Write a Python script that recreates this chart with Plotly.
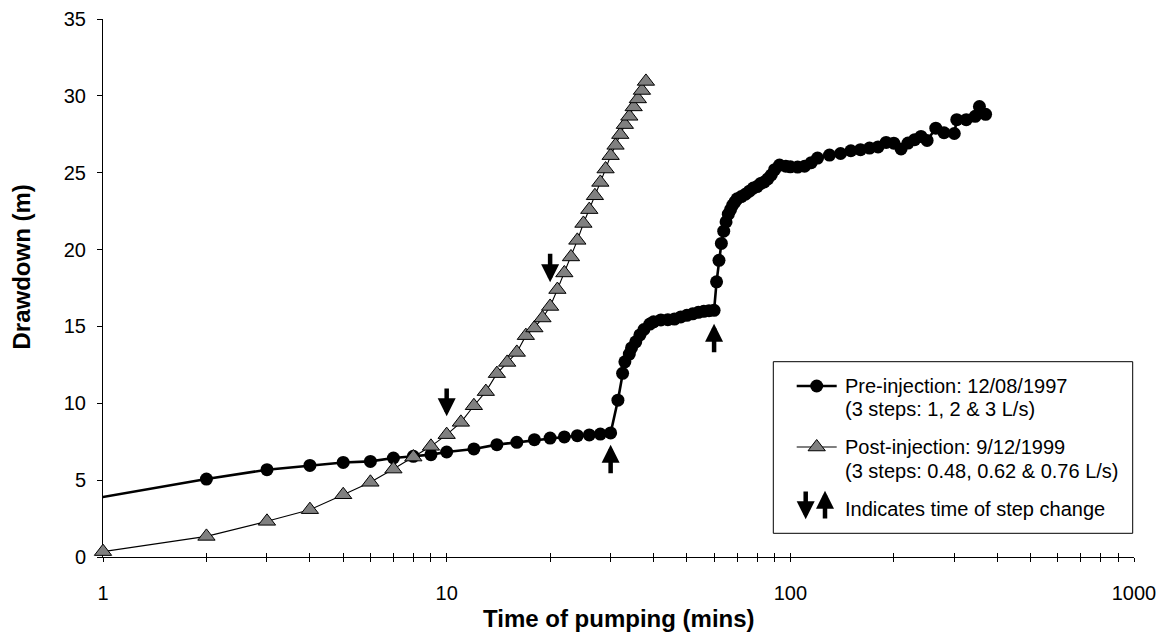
import plotly.graph_objects as go
import math

# ---------------- data ----------------
pre_time = [0.5, 2, 3, 4, 5, 6, 7, 8, 9, 10, 12, 14, 16, 18, 20, 22, 24, 26, 28, 30,
            31.5, 32.5, 33, 34, 34.5, 35.5, 36.5, 37.5, 39, 40, 42, 44, 46, 48, 50, 52, 54, 56, 58, 60,
            61, 62, 63, 64, 65, 66, 67, 68, 69, 70, 72, 74, 76, 78, 80, 82, 84, 86, 88, 90,
            93, 97, 100, 105, 110, 115, 120, 130, 140, 150, 160, 170, 180, 190, 200, 210,
            220, 230, 240, 250, 265, 280, 300, 305, 325, 345, 355, 370]
pre_drawdown = [2.73, 5.07, 5.68, 5.96, 6.15, 6.22, 6.44, 6.55, 6.66, 6.83, 7.03, 7.31, 7.46, 7.63, 7.74, 7.81, 7.89, 7.94, 8.0, 8.07,
                10.2, 11.95, 12.7, 13.2, 13.6, 14.0, 14.45, 14.8, 15.15, 15.3, 15.42, 15.44, 15.48, 15.62, 15.72, 15.82, 15.92, 15.98, 16.02, 16.05,
                17.9, 19.3, 20.4, 21.2, 21.8, 22.3, 22.6, 22.9, 23.1, 23.3, 23.45, 23.6, 23.8, 24.0, 24.1, 24.3, 24.4, 24.6, 24.85, 25.2,
                25.5, 25.42, 25.38, 25.37, 25.42, 25.65, 25.95, 26.15, 26.25, 26.43, 26.5, 26.6, 26.68, 26.97, 26.92, 26.55,
                26.93, 27.15, 27.36, 27.1, 27.9, 27.6, 27.55, 28.45, 28.45, 28.67, 29.3, 28.8]

post_time = list(range(1, 39))
post_drawdown = [0.35, 1.34, 2.32, 3.08, 4.05, 4.86, 5.72, 6.5, 7.2, 7.96, 8.76, 9.84, 10.76, 11.93, 12.66,
                 13.31, 14.4, 14.9, 15.55, 16.3, 17.4, 18.48, 19.52, 20.6, 21.7, 22.6, 23.5, 24.37, 25.24,
                 26.11, 26.78, 27.48, 28.13, 28.67, 29.28, 29.8, 30.35, 30.94]

# step-change arrows (time, arrow tip drawdown, arrow tail drawdown)
arrow_time = [10, 20, 30, 60]
arrow_tip = [9.15, 17.87, 7.31, 15.18]
arrow_tail = [11.06, 19.82, 5.35, 13.23]

pre_name = "Pre-injection: 12/08/1997"
pre_sub = "(3 steps: 1, 2 & 3 L/s)"
post_name = "Post-injection: 9/12/1999"
post_sub = "(3 steps: 0.48, 0.62 & 0.76 L/s)"
arrow_note = "Indicates time of step change"

x_title = "Time of pumping (mins)"
y_title = "Drawdown (m)"
y_ticks = [0, 5, 10, 15, 20, 25, 30, 35]
x_major = [1, 10, 100, 1000]

# ---------------- geometry ----------------
W, H = 1160, 635
ML, MR, MT, MB = 103, 26, 19, 78
PW, PH = W - ML - MR, H - MT - MB


def px(x):
    return (x - ML) / PW


def py(y):
    return (H - MB - y) / PH


FONT = "Liberation Sans, Arial, sans-serif"

x_tickvals = [m * 10 ** d for d in range(3) for m in range(1, 10)] + [1000]
x_ticktext = [str(v) if v in x_major else "" for v in x_tickvals]

fig = go.Figure()

fig.add_trace(go.Scatter(
    x=pre_time, y=pre_drawdown, mode="lines+markers", name=pre_name,
    line=dict(color="black", width=2.6),
    marker=dict(symbol="circle", size=13, color="black"),
    cliponaxis=True, showlegend=False))

fig.add_trace(go.Scatter(
    x=post_time, y=post_drawdown, mode="lines+markers", name=post_name,
    xaxis="x2", yaxis="y",
    line=dict(color="black", width=1.1),
    marker=dict(symbol="triangle-up", size=15, color="#808080",
                line=dict(color="black", width=1)),
    cliponaxis=False, showlegend=False))

# ---- legend samples (overlay axes spanning plot area in [0,1]) ----
leg_line_x0, leg_line_x1, leg_mark_x = 796.7, 836.7, 816.7
leg_rows = [386, 409, 447, 471, 509]
fig.add_trace(go.Scatter(x=[px(leg_line_x0), px(leg_line_x1)], y=[py(leg_rows[0])] * 2,
                         mode="lines", line=dict(color="black", width=2.6),
                         xaxis="x3", yaxis="y3", showlegend=False, hoverinfo="skip"))
fig.add_trace(go.Scatter(x=[px(leg_mark_x)], y=[py(leg_rows[0])], mode="markers",
                         marker=dict(symbol="circle", size=13, color="black"),
                         xaxis="x3", yaxis="y3", showlegend=False, hoverinfo="skip"))
fig.add_trace(go.Scatter(x=[px(leg_line_x0), px(leg_line_x1)], y=[py(leg_rows[2])] * 2,
                         mode="lines", line=dict(color="black", width=1.1),
                         xaxis="x3", yaxis="y3", showlegend=False, hoverinfo="skip"))
fig.add_trace(go.Scatter(x=[px(leg_mark_x)], y=[py(leg_rows[2])], mode="markers",
                         marker=dict(symbol="triangle-up", size=15, color="#808080",
                                     line=dict(color="black", width=1)),
                         xaxis="x3", yaxis="y3", showlegend=False, hoverinfo="skip"))

annotations = []
# step change arrows on the chart
for t, tip, tail in zip(arrow_time, arrow_tip, arrow_tail):
    annotations.append(dict(
        x=math.log10(t), y=tip, ax=math.log10(t), ay=tail,
        xref="x", yref="y", axref="x", ayref="y",
        text="", showarrow=True, arrowhead=2, arrowwidth=4.5, arrowsize=0.8,
        arrowcolor="black", standoff=0))

# legend texts
leg_text_x = px(842.7)
for txt, row in zip([pre_name, pre_sub, post_name, post_sub, arrow_note], leg_rows):
    annotations.append(dict(
        x=leg_text_x, y=py(row), xref="paper", yref="paper", text=txt,
        showarrow=False, xanchor="left", yanchor="middle",
        font=dict(family=FONT, size=20, color="black")))

# legend arrow icons
annotations.append(dict(x=px(805.7), y=py(519.3), xref="paper", yref="paper", ax=0, ay=-29.3,
                        text="", showarrow=True, arrowhead=2, arrowwidth=4.5, arrowsize=0.8,
                        arrowcolor="black", standoff=0))
annotations.append(dict(x=px(825), y=py(490.7), xref="paper", yref="paper", ax=0, ay=29.3,
                        text="", showarrow=True, arrowhead=2, arrowwidth=4.5, arrowsize=0.8,
                        arrowcolor="black", standoff=0))

# axis titles
annotations.append(dict(x=0.5, y=py(618.5), xref="paper", yref="paper", text=x_title,
                        showarrow=False, xanchor="center", yanchor="middle",
                        font=dict(family=FONT, size=24, color="black", weight="bold")))
annotations.append(dict(x=px(21), y=py(267.5), xref="paper", yref="paper", text=y_title,
                        showarrow=False, xanchor="center", yanchor="middle", textangle=-90,
                        font=dict(family=FONT, size=24, color="black", weight="bold")))

shapes = [dict(type="rect", xref="paper", yref="paper",
               x0=px(773.3), x1=px(1132.7), y0=py(533.3), y1=py(361.7),
               line=dict(color="black", width=1), fillcolor="white", layer="below")]

common_x = dict(type="log", range=[0, 3], showgrid=False, zeroline=False, automargin=False)

fig.update_layout(
    width=W, height=H,
    margin=dict(l=ML, r=MR, t=MT, b=MB, pad=0, autoexpand=False),
    paper_bgcolor="white", plot_bgcolor="white",
    font=dict(family=FONT, size=20, color="black"),
    showlegend=False,
    xaxis=dict(**common_x, tickvals=x_tickvals, ticktext=x_ticktext,
               ticks="outside", ticklen=4, tickwidth=1, tickcolor="black",
               showline=True, linecolor="black", linewidth=1,
               ticklabelstandoff=14, layer="below traces",
               tickfont=dict(family=FONT, size=20, color="black")),
    xaxis2=dict(**common_x, overlaying="x", anchor="y", side="bottom",
                tickvals=x_tickvals, ticks="inside", ticklen=4, tickwidth=1, tickcolor="black",
                showticklabels=False, showline=False, layer="below traces"),
    yaxis=dict(range=[0, 35], tickvals=y_ticks, ticks="outside", ticklen=5, tickwidth=1,
               tickcolor="black", showline=True, linecolor="black", linewidth=1,
               showgrid=False, zeroline=False, ticklabelstandoff=7, layer="below traces",
               automargin=False,
               tickfont=dict(family=FONT, size=20, color="black")),
    xaxis3=dict(range=[0, 1], overlaying="x", anchor="y3", visible=False, fixedrange=True),
    yaxis3=dict(range=[0, 1], overlaying="y", anchor="x3", visible=False, fixedrange=True),
    annotations=annotations,
    shapes=shapes,
)

fig.write_html("out.html")
